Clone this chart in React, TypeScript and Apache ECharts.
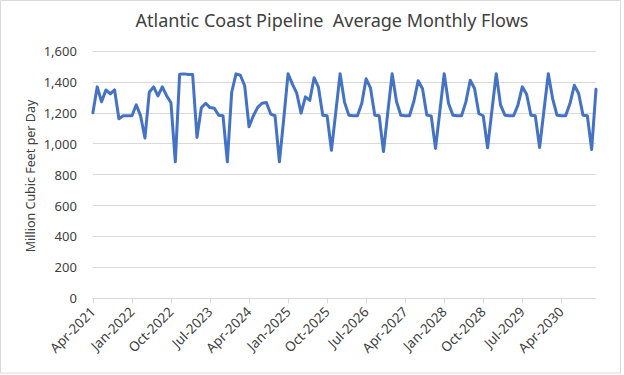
import React, { useEffect, useRef } from "react";
import * as echarts from "echarts";

// Monthly categories Apr-2021 .. Dec-2030
const monthNames = ["Jan", "Feb", "Mar", "Apr", "May", "Jun", "Jul", "Aug", "Sep", "Oct", "Nov", "Dec"];
const startYear = 2021;
const startMonth = 3; // April (0-based)
const monthCount = 117;
const categories: string[] = [];
for (let k = 0; k < monthCount; k++) {
  const m = (startMonth + k) % 12;
  const y = startYear + Math.floor((startMonth + k) / 12);
  categories.push(`${monthNames[m]}-${y}`);
}

// Average monthly flows (MMcf/d)
const flows2021 = [1200, 1368, 1271, 1348, 1322, 1348, 1162, 1181, 1181]; // Apr-Dec 2021
const flows2022 = [1181, 1252, 1180, 1037, 1333, 1368, 1309, 1368, 1311, 1265, 883, 1450];
const flows2023 = [1452, 1448, 1448, 1041, 1233, 1262, 1234, 1230, 1184, 1181, 883, 1333];
const flows2024 = [1452, 1443, 1375, 1110, 1181, 1235, 1262, 1267, 1192, 1181, 883, 1160];
const flows2025 = [1453, 1386, 1327, 1198, 1303, 1280, 1427, 1366, 1184, 1181, 958, 1205];
const flows2026 = [1453, 1271, 1185, 1181, 1181, 1262, 1420, 1361, 1185, 1181, 950, 1205];
const flows2027 = [1453, 1273, 1184, 1181, 1181, 1273, 1408, 1356, 1185, 1180, 970, 1210];
const flows2028 = [1453, 1260, 1185, 1181, 1181, 1271, 1411, 1357, 1194, 1181, 974, 1215];
const flows2029 = [1453, 1250, 1185, 1181, 1181, 1250, 1368, 1320, 1185, 1181, 976, 1215];
const flows2030 = [1453, 1292, 1185, 1181, 1181, 1260, 1378, 1325, 1185, 1181, 963, 1353];

const flows = [
  ...flows2021, ...flows2022, ...flows2023, ...flows2024, ...flows2025,
  ...flows2026, ...flows2027, ...flows2028, ...flows2029, ...flows2030,
];

const yTicks = { min: 0, max: 1600, interval: 200 };
const titleText = "Atlantic Coast Pipeline  Average Monthly Flows";
const yAxisTitle = "Million Cubic Feet per Day";

const FONT = "'Noto Sans', sans-serif";
const TEXT = "#595959";
const GRID = "#d9d9d9";

export default function App() {
  const ref = useRef<HTMLDivElement>(null);
  useEffect(() => {
    if (!ref.current) return;
    const chart = echarts.init(ref.current, undefined, { renderer: "svg" });
    chart.setOption({
      animation: false,
      backgroundColor: "#ffffff",
      textStyle: { fontFamily: FONT },
      title: {
        text: titleText,
        left: 327,
        top: 6,
        textAlign: "center",
        textStyle: { fontFamily: FONT, fontSize: 18, fontWeight: "normal", color: "#404040" },
      },
      graphic: [
        {
          type: "rect",
          silent: true,
          shape: { x: 0.5, y: 0.5, width: 620, height: 372.5 },
          style: { fill: "none", stroke: GRID, lineWidth: 1 },
        },
        {
          type: "text",
          x: 30,
          y: 176,
          rotation: Math.PI / 2,
          style: {
            text: yAxisTitle,
            fontFamily: FONT,
            fontSize: 12.5,
            fill: "#404040",
            align: "center",
            verticalAlign: "middle",
          },
        },
      ],
      grid: { left: 92.9, right: 28, top: 51, bottom: 76.7, containLabel: false },
      xAxis: {
        type: "category",
        data: categories,
        boundaryGap: false,
        axisLine: { lineStyle: { color: GRID, width: 1 } },
        axisTick: { show: true, interval: 8, length: 5, lineStyle: { color: GRID } },
        axisLabel: {
          interval: 8,
          rotate: 45,
          margin: 11,
          color: "#404040",
          fontFamily: FONT,
          fontSize: 13.5,
        },
        splitLine: { show: false },
      },
      yAxis: {
        type: "value",
        min: yTicks.min,
        max: yTicks.max,
        interval: yTicks.interval,
        axisLine: { show: false },
        axisTick: { show: false },
        axisLabel: {
          margin: 16,
          color: "#404040",
          fontFamily: FONT,
          fontSize: 13,
          formatter: (v: number) => v.toLocaleString("en-US"),
        },
        splitLine: { lineStyle: { color: GRID, width: 1 } },
      },
      series: [
        {
          type: "line",
          data: flows,
          showSymbol: false,
          symbol: "none",
          lineStyle: { color: "#4472C4", width: 3, join: "round", cap: "round" },
        },
      ],
    });
    return () => chart.dispose();
  }, []);
  return (
    <div
      ref={ref}
      style={{ position: "fixed", left: 0, top: 0, width: 624, height: 375 }}
    />
  );
}
